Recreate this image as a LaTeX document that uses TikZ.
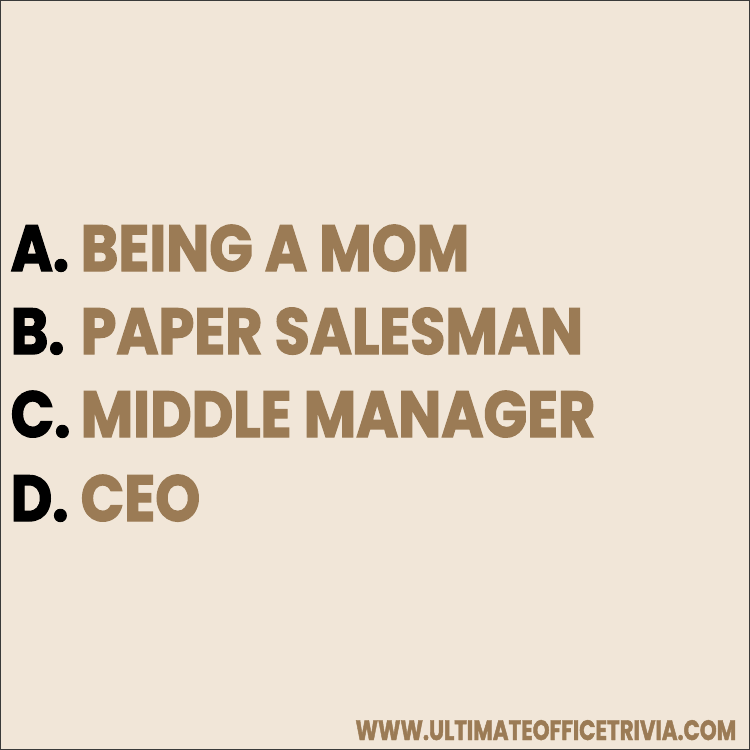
\documentclass[tikz,border=0pt]{standalone}
\usepackage{fontspec}
\setmainfont{Poppins}
\newfontfamily\quizfont{Poppins}[FakeStretch=0.88, BoldFeatures={FakeBold=2}]
\newfontfamily\sitefont{Poppins}[FakeStretch=0.76, BoldFeatures={FakeBold=1.5}]
\usepackage{tikz}
\usetikzlibrary{positioning}
\definecolor{paper}{HTML}{F1E6D8}
\definecolor{tan}{HTML}{9B7B55}
\definecolor{frame}{HTML}{3A3A3A}
\tikzstyle{letter} = [anchor=base west, inner sep=0pt, text=black, font=\quizfont\fontsize{18.5}{20}\bfseries\selectfont]
\tikzstyle{answer} = [anchor=base west, inner sep=0pt, text=tan, font=\quizfont\fontsize{18.5}{20}\bfseries\selectfont]
\tikzstyle{site} = [anchor=base east, inner sep=0pt, text=tan, font=\sitefont\fontsize{8}{9}\bfseries\selectfont]

\begin{document}
\begin{tikzpicture}[x=0.1mm, y=-0.1mm]
    \fill[paper] (0,0) rectangle (750,750);
    \draw[frame, line width=0.1mm] (0.5,0.5) rectangle (749.5,749.5);
    \useasboundingbox (0,0) rectangle (750,750);

    \node[letter] (la) at (10,271) {A.};
    \node[letter] (lb) at (10,354) {B.};
    \node[letter] (lc) at (10,437) {C.};
    \node[letter] (ld) at (10,521) {D.};

    \node[answer] (aa) at (80,271) {BEING A MOM};
    \node[answer] (ab) at (80,354) {PAPER SALESMAN};
    \node[answer] (ac) at (80,437) {MIDDLE MANAGER};
    \node[answer] (ad) at (80,521) {CEO};

    \node[site] (url) at (737,740) {WWW.ULTIMATEOFFICETRIVIA.COM};
\end{tikzpicture}
\end{document}
